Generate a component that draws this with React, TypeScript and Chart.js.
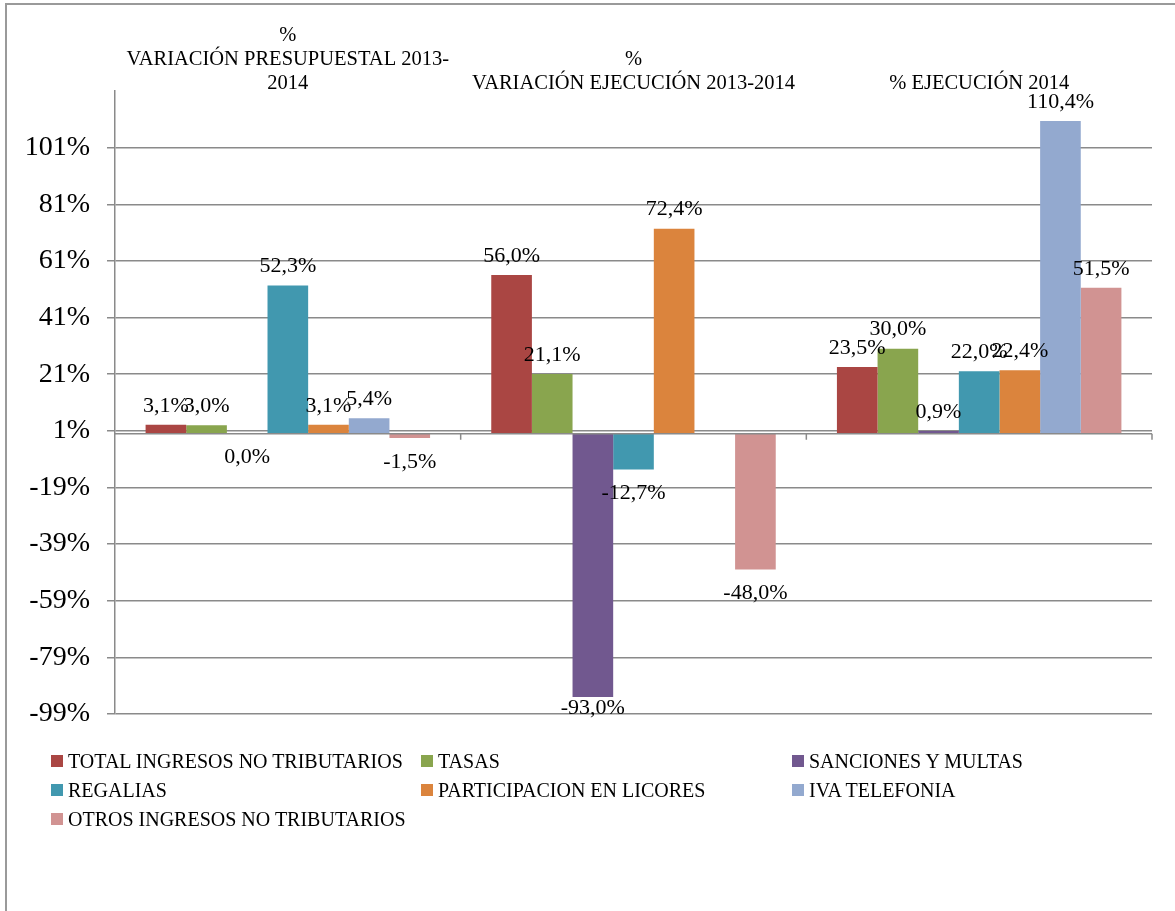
import React, { useEffect, useRef } from 'react';
import { Chart, registerables } from 'chart.js';

Chart.register(...registerables);

const CATEGORIES = [
  ['%', 'VARIACIÓN PRESUPUESTAL 2013-', '2014'],
  ['%', 'VARIACIÓN EJECUCIÓN 2013-2014'],
  ['% EJECUCIÓN 2014'],
];

const SERIES_NAMES = [
  'TOTAL INGRESOS NO TRIBUTARIOS',
  'TASAS',
  'SANCIONES Y MULTAS',
  'REGALIAS',
  'PARTICIPACION EN LICORES',
  'IVA TELEFONIA',
  'OTROS INGRESOS NO TRIBUTARIOS',
];

const SERIES_COLORS = ['#AA4643', '#89A54E', '#71588F', '#4198AF', '#DB843D', '#93A9CF', '#D19392'];

const TOTAL_INGRESOS = [3.1, 56.0, 23.5];
const TASAS = [3.0, 21.1, 30.0];
const SANCIONES = [0.0, -93.0, 0.9];
const REGALIAS = [52.3, -12.7, 22.0];
const LICORES = [3.1, 72.4, 22.4];
const IVA_TELEFONIA = [5.4, null, 110.4];
const OTROS = [-1.5, -48.0, 51.5];

const SERIES_VALUES = [TOTAL_INGRESOS, TASAS, SANCIONES, REGALIAS, LICORES, IVA_TELEFONIA, OTROS];

const Y_TICKS = [-99, -79, -59, -39, -19, 1, 21, 41, 61, 81, 101];
const Y_MIN = -99;
const Y_MAX = 121;

const FONT = "'Liberation Serif', 'Times New Roman', serif";
const GRID = '#8a8a8a';

const fmt = (v: number) => v.toFixed(1).replace('.', ',') + '%';

const zeroAxisPlugin = {
  id: 'zeroAxis',
  afterDatasetsDraw(chart: any) {
    const { ctx, chartArea, scales } = chart;
    const y = scales.y.getPixelForValue(0);
    const n = chart.data.labels.length;
    ctx.save();
    ctx.strokeStyle = GRID;
    ctx.lineWidth = 1.5;
    ctx.beginPath();
    ctx.moveTo(chartArea.left, y);
    ctx.lineTo(chartArea.right, y);
    for (let i = 1; i <= n; i++) {
      const x = chartArea.left + ((chartArea.right - chartArea.left) * i) / n;
      ctx.moveTo(x, y);
      ctx.lineTo(x, y + 6);
    }
    ctx.stroke();
    ctx.restore();
  },
};

const valueLabelPlugin = {
  id: 'valueLabels',
  afterDatasetsDraw(chart: any) {
    const { ctx, chartArea } = chart;
    ctx.save();
    ctx.font = `22px ${FONT}`;
    ctx.fillStyle = '#000';
    ctx.textAlign = 'center';
    ctx.textBaseline = 'middle';
    chart.data.datasets.forEach((ds: any, di: number) => {
      const meta = chart.getDatasetMeta(di);
      meta.data.forEach((el: any, i: number) => {
        const v = ds.data[i];
        if (v === null || v === undefined) return;
        let y = v > 0 ? el.y - 19 : el.y + 24;
        if (y > chartArea.bottom - 6) y = chartArea.bottom - 6;
        ctx.fillText(fmt(v), el.x, y);
      });
    });
    ctx.restore();
  },
};

export default function App() {
  const canvasRef = useRef<HTMLCanvasElement | null>(null);

  useEffect(() => {
    if (!canvasRef.current) return;
    const chart = new Chart(canvasRef.current, {
      type: 'bar',
      data: {
        labels: CATEGORIES,
        datasets: SERIES_NAMES.map((name, i) => ({
          label: name,
          data: SERIES_VALUES[i],
          backgroundColor: SERIES_COLORS[i],
          borderWidth: 0,
          barPercentage: 1,
          categoryPercentage: 0.823,
        })),
      },
      options: {
        responsive: false,
        animation: false,
        devicePixelRatio: 1,
        layout: { padding: { left: 0, top: 0, right: 23, bottom: 197 } },
        plugins: {
          legend: { display: false },
          tooltip: { enabled: false },
          title: { display: false },
        },
        scales: {
          x: {
            position: 'top',
            grid: { display: false },
            border: { display: false },
            ticks: {
              color: '#000',
              font: { family: FONT, size: 20.5, lineHeight: 1.15 },
              padding: -12,
              maxRotation: 0,
              autoSkip: false,
            },
            afterFit: (s: any) => {
              s.height = 91;
            },
          },
          y: {
            min: Y_MIN,
            max: Y_MAX,
            afterBuildTicks: (s: any) => {
              s.ticks = Y_TICKS.map((v) => ({ value: v }));
            },
            afterFit: (s: any) => {
              s.width = 115;
            },
            grid: { color: GRID, lineWidth: 1.5, tickLength: 8 },
            border: { display: true, color: GRID, width: 1.5 },
            ticks: {
              color: '#000',
              font: { family: FONT, size: 28 },
              padding: 17,
              callback: (v: any) => `${v}%`,
            },
          },
        },
      },
      plugins: [zeroAxisPlugin, valueLabelPlugin],
    });
    return () => chart.destroy();
  }, []);

  const legendRows = [
    [0, 1, 2],
    [3, 4, 5],
    [6],
  ];
  const colLeft = [51, 421, 792];
  const rowCenter = [761, 790, 819];

  return (
    <div
      style={{
        position: 'absolute',
        left: 0,
        top: 0,
        width: 1175,
        height: 911,
        overflow: 'hidden',
        background: '#fff',
      }}
    >
      <div
        style={{
          position: 'absolute',
          left: 5,
          top: 3,
          width: 1300,
          height: 1000,
          borderLeft: '2px solid #9a9a9a',
          borderTop: '2px solid #9a9a9a',
        }}
      />
      <canvas
        ref={canvasRef}
        width={1175}
        height={911}
        style={{ position: 'absolute', left: 0, top: 0, width: 1175, height: 911 }}
      />
      {legendRows.map((row, r) =>
        row.map((si, c) => (
          <div
            key={si}
            style={{
              position: 'absolute',
              left: colLeft[c],
              top: rowCenter[r] - 12,
              height: 24,
              display: 'flex',
              alignItems: 'center',
              whiteSpace: 'nowrap',
              fontFamily: FONT,
              fontSize: 20,
              color: '#000',
            }}
          >
            <span
              style={{
                display: 'inline-block',
                width: 12,
                height: 12,
                background: SERIES_COLORS[si],
                marginRight: 5,
              }}
            />
            <span>{SERIES_NAMES[si]}</span>
          </div>
        ))
      )}
    </div>
  );
}
